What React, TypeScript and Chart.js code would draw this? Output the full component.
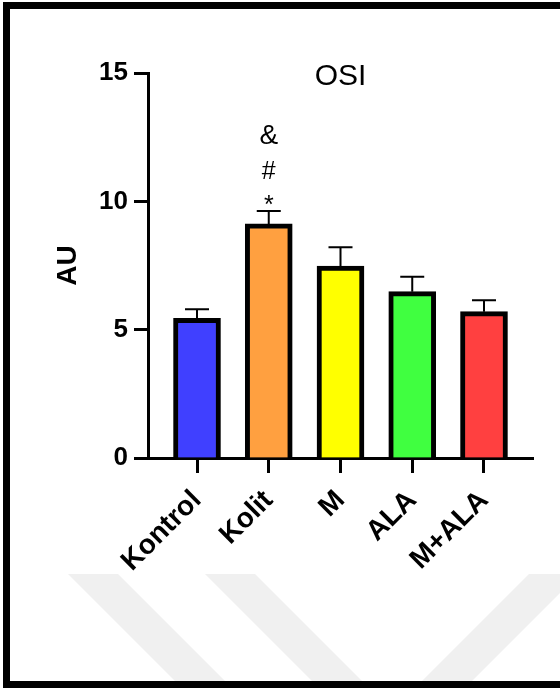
import { useEffect, useRef } from "react";
import { Chart, registerables } from "chart.js";

Chart.register(...registerables);

// Groups, mean values and standard errors (AU)
const groups = ["Kontrol", "Kolit", "M", "ALA", "M+ALA"];
const means = [5.44, 9.12, 7.48, 6.48, 5.7];
const sems = [0.36, 0.5, 0.73, 0.58, 0.45];
const barColors = ["#4040ff", "#ffa040", "#ffff00", "#40ff40", "#ff4040"];
const yTicks = [0, 5, 10, 15];
// Significance symbols stacked above the Kolit bar
const kolitMarks = ["*", "#", "&"];
const chartTitle = "OSI";
const yTitle = "AU";

const FONT = '"Liberation Sans", Arial, Helvetica, sans-serif';

const extras = {
  id: "extras",
  beforeDraw(chart: any) {
    const ctx = chart.ctx;
    ctx.save();
    ctx.fillStyle = "#ffffff";
    ctx.fillRect(0, 0, chart.width, chart.height);
    // faint background stripes near the bottom
    ctx.fillStyle = "#f0f0f0";
    const top = 574;
    const bottom = chart.height;
    const h = bottom - top;
    const stripes: [number, number][] = [
      [68, 1],
      [205, 1],
      [529, -1],
    ];
    stripes.forEach(([x0, dir]) => {
      ctx.beginPath();
      ctx.moveTo(x0, top);
      ctx.lineTo(x0 + 50, top);
      ctx.lineTo(x0 + 50 + dir * h, bottom);
      ctx.lineTo(x0 + dir * h, bottom);
      ctx.closePath();
      ctx.fill();
    });
    ctx.restore();
  },
  afterDatasetsDraw(chart: any) {
    const ctx = chart.ctx;
    const yScale = chart.scales.y;
    const meta = chart.getDatasetMeta(0);
    ctx.save();
    ctx.strokeStyle = "#000";
    ctx.lineWidth = 2;
    meta.data.forEach((bar: any, i: number) => {
      const top = yScale.getPixelForValue(means[i] + sems[i]);
      ctx.beginPath();
      ctx.moveTo(bar.x, bar.y);
      ctx.lineTo(bar.x, top);
      ctx.moveTo(bar.x - 12, top);
      ctx.lineTo(bar.x + 12, top);
      ctx.stroke();
    });
    // significance marks over Kolit
    const k = groups.indexOf("Kolit");
    const kb = meta.data[k];
    const cap = yScale.getPixelForValue(means[k] + sems[k]);
    ctx.fillStyle = "#000";
    ctx.textAlign = "center";
    ctx.textBaseline = "alphabetic";
    const markStyle = [
      { size: 25, base: cap + 2 },
      { size: 25, base: cap - 32 },
      { size: 28, base: cap - 67 },
    ];
    kolitMarks.forEach((m, i) => {
      ctx.font = `${markStyle[i].size}px ${FONT}`;
      ctx.fillText(m, kb.x, markStyle[i].base);
    });
    ctx.restore();
  },
  afterDraw(chart: any) {
    const ctx = chart.ctx;
    const area = chart.chartArea;
    ctx.save();
    ctx.fillStyle = "#000";
    ctx.font = `30px ${FONT}`;
    ctx.textAlign = "center";
    ctx.textBaseline = "alphabetic";
    ctx.fillText(chartTitle, (area.left + area.right) / 2, 85);
    // frame
    ctx.fillRect(3, 2, chart.width - 3, 7);
    ctx.fillRect(3, 2, 7, chart.height - 2);
    ctx.fillRect(3, chart.height - 7, chart.width - 3, 7);
    ctx.restore();
  },
};

export default function App() {
  const ref = useRef<HTMLCanvasElement | null>(null);

  useEffect(() => {
    if (!ref.current) return;
    const chart = new Chart(ref.current, {
      type: "bar",
      data: {
        datasets: [
          {
            data: means.map((v, i) => ({ x: i, y: v })),
            backgroundColor: barColors,
            borderColor: "#000",
            borderWidth: 5,
            borderSkipped: "start",
            barThickness: 47,
          },
        ],
      },
      options: {
        animation: false,
        responsive: false,
        devicePixelRatio: 1,
        layout: { padding: { left: 0, top: 73, right: 27, bottom: 0 } },
        plugins: {
          legend: { display: false },
          tooltip: { enabled: false },
          title: { display: false },
        },
        scales: {
          x: {
            type: "linear",
            min: -0.683,
            max: 4.683,
            offset: false,
            afterBuildTicks: (s: any) => {
              s.ticks = groups.map((_, i) => ({ value: i }));
            },
            afterFit: (s: any) => {
              s.height = 230;
            },
            ticks: {
              autoSkip: false,
              minRotation: 45,
              maxRotation: 45,
              padding: 11,
              color: "#000",
              font: { family: FONT, size: 28, weight: "bold" },
              callback: (v: any) => groups[v] ?? "",
            },
            grid: {
              offset: false,
              drawOnChartArea: false,
              drawTicks: true,
              tickLength: 15,
              tickWidth: 3,
              tickColor: "#000",
            },
            border: { display: true, color: "#000", width: 3 },
          },
          y: {
            min: 0,
            max: 15,
            afterBuildTicks: (s: any) => {
              s.ticks = yTicks.map((v) => ({ value: v }));
            },
            afterFit: (s: any) => {
              s.width = 148;
            },
            ticks: {
              padding: 6,
              color: "#000",
              font: { family: FONT, size: 26, weight: "bold" },
            },
            grid: {
              drawOnChartArea: false,
              drawTicks: true,
              tickLength: 14,
              tickWidth: 3,
              tickColor: "#000",
            },
            border: { display: true, color: "#000", width: 3 },
            title: {
              display: true,
              text: yTitle,
              color: "#000",
              font: { family: FONT, size: 28, weight: "bold" },
              padding: { top: 51, bottom: 0 },
            },
          },
        },
      },
      plugins: [extras],
    } as any);
    return () => chart.destroy();
  }, []);

  return (
    <div
      style={{
        position: "fixed",
        left: 0,
        top: 0,
        width: 560,
        height: 688,
        background: "#fff",
      }}
    >
      <canvas ref={ref} width={560} height={688} style={{ display: "block" }} />
    </div>
  );
}
